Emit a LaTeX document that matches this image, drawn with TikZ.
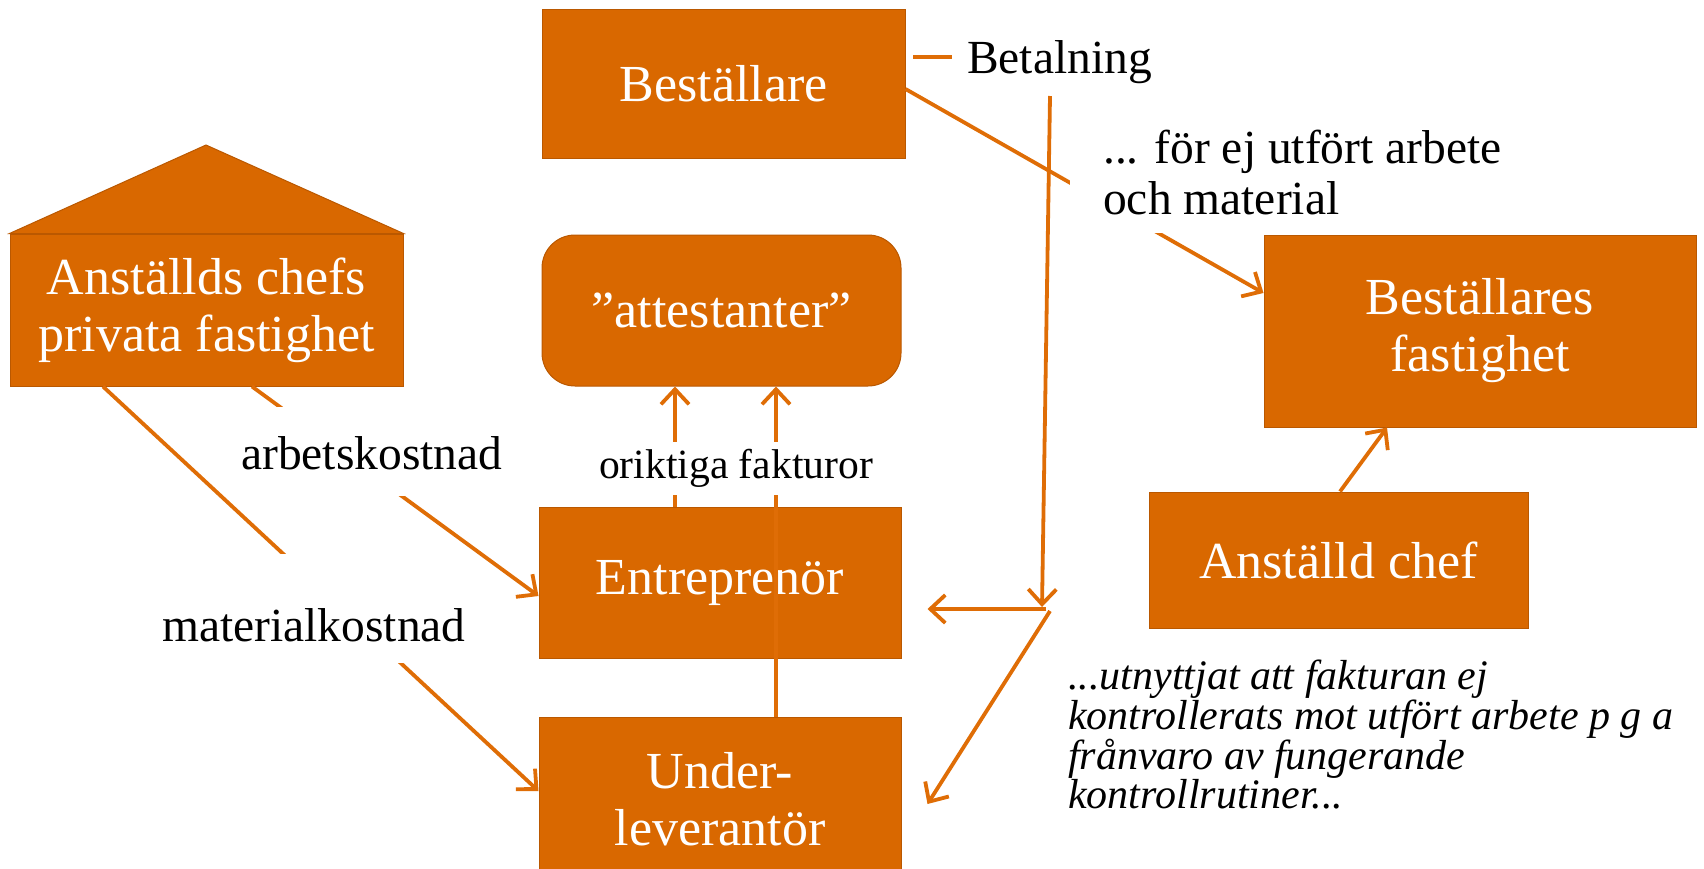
\documentclass[tikz,border=0pt]{standalone}
\usepackage{fontspec}
\setmainfont{Liberation Serif}
\usetikzlibrary{arrows.meta,calc}
\definecolor{org}{RGB}{217,104,0}
\definecolor{orgline}{RGB}{223,109,6}
\definecolor{orgdark}{RGB}{186,88,0}
\begin{document}
\begin{tikzpicture}[x=1pt,y=-1pt,
  box/.style={draw=orgdark,line width=1pt,fill=org,text=white,inner sep=0pt,align=center,font=\fontsize{52}{57}\selectfont},
  conn/.style={draw=orgline,line width=3.8pt},
  arr/.style={conn,-{Straight Barb[length=15pt,width=28pt,line width=3.8pt]}},
  lab/.style={fill=white,inner sep=0pt,font=\fontsize{47.5}{51}\selectfont}]
\useasboundingbox (0,0) rectangle (1704,868);

% boxes
\node[box,minimum width=363pt,minimum height=149pt] (best) at (723.5,83.5) {Beställare};
\node[box,rounded corners=33pt,minimum width=359pt,minimum height=151pt] (att) at (721.5,310.5) {”attestanter”};
\node[box,minimum width=362pt,minimum height=151pt] (ent) at (720,583) {Entreprenör};
\node[box,minimum width=362pt,minimum height=164pt] (und) at (720,799) {Under-\\leverantör};
\node[box,minimum width=432pt,minimum height=192pt] (bfast) at (1480,331) {Beställares\\fastighet};
\node[box,minimum width=379pt,minimum height=136pt] (chef) at (1338.5,560) {Anställd chef};
\node[box,minimum width=393pt,minimum height=152pt] (anst) at (206.5,310) {Anställds chefs\\privata fastighet};
\coordinate (apex) at (206,145);
\filldraw[draw=orgdark,line width=1pt,fill=org] (anst.north west) -- (apex) -- (anst.north east) -- cycle;

% connectors
\draw[arr] ($(anst.south)+(45.5,0)$) -- ($(ent.west)+(0,13)$);
\draw[arr] ($(anst.south)+(-103.5,0)$) -- ($(und.west)+(0,-8)$);
\draw[arr] ($(ent.north)+(-45,0)$) -- ($(att.south)+(-46.5,0)$);
\draw[arr] ($(und.north)+(56,0)$) -- ($(att.south)+(54.5,0)$);
\draw[arr] ($(best.east)+(0,5.5)$) -- ($(bfast.west)+(0,-38)$);
\draw[arr] ($(chef.north)+(1.5,0)$) -- ($(bfast.south)+(-93,0)$);

\coordinate (d1) at (913,57);
\coordinate (d2) at (952,57);
\draw[conn] (d1) -- (d2);
\coordinate (vtop) at (1050,96);
\coordinate (vbot) at (1042,607);
\coordinate (hstart) at (1046,609);
\coordinate (dstart) at (1050,611);
\draw[arr] (vtop) -- (vbot);
\draw[arr] (hstart) -- ($(ent.east)+(26,26)$);
\draw[arr] (dstart) -- ($(und.east)+(26,5)$);

% labels
\node[anchor=base west,inner sep=0pt,font=\fontsize{47.5}{51}\selectfont] (betal) at (967,73) {Betalning};
\node[lab,anchor=base west,text height=62pt,text depth=27pt] (arb) at (241,469) {arbetskostnad};
\node[lab,anchor=base west,text height=87pt,text depth=22pt] (mat) at (162,641) {materialkostnad};
\node[lab,anchor=base,text height=36pt,text depth=17pt,font=\fontsize{41.6}{45}\selectfont] (orikt) at (736,478) {oriktiga fakturor};
\node[lab,anchor=south west,align=left,inner xsep=33pt,inner ysep=18pt] (forej) at (1070,233) {... för ej utfört arbete\\och material};
\node[anchor=north west,inner sep=0pt,align=left,font=\fontsize{42}{38.5}\selectfont\itshape] (kom) at (1068,660) {...utnyttjat att fakturan ej\\kontrollerats mot utfört arbete p g a\\frånvaro av fungerande\\kontrollrutiner...};
\end{tikzpicture}
\end{document}
